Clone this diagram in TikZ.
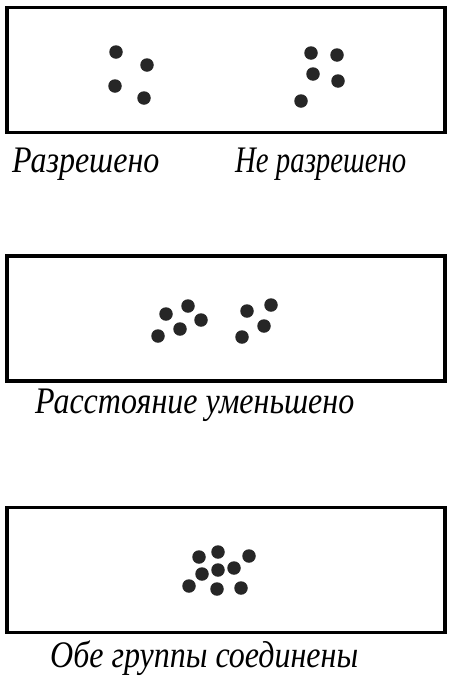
\documentclass[tikz,border=0pt]{standalone}
\usepackage{fontspec}
\setmainfont{Liberation Serif}
\usepackage{tikz}
\usetikzlibrary{positioning}
\tikzstyle{frame} = [rectangle, draw=black, line width=3.5pt, minimum
width=438pt, minimum height=125pt, inner sep=0pt]
\tikzstyle{grain} = [circle, fill=black!85, minimum size=13.5pt, inner sep=0pt]
\tikzstyle{caption} = [font=\itshape\fontsize{32}{32}\selectfont, anchor=base
west, inner sep=0pt, yscale=1.17, transform shape]

\begin{document}
\begin{tikzpicture}[x=1pt,y=-1pt]
    \useasboundingbox (0,0) rectangle (450,691);
    \node (f1) [frame] at (226,70) {};
    \node (f2) [frame] at (226,318.5) {};
    \node (f3) [frame] at (226,570) {};
    % first frame
    \foreach \x/\y [count=\i] in {116/52,147/65,115/86,144/98}
        \node (a\i) [grain] at (\x,\y) {};
    \foreach \x/\y [count=\i] in {311/53,337/55,313/74,338/81,301/101}
        \node (b\i) [grain] at (\x,\y) {};
    % second frame
    \foreach \x/\y [count=\i] in {166/314,188/306,201/320,180/329,158/336}
        \node (c\i) [grain] at (\x,\y) {};
    \foreach \x/\y [count=\i] in {247/311,271/305,264/326,242/337}
        \node (d\i) [grain] at (\x,\y) {};
    % third frame
    \foreach \x/\y [count=\i] in {199/557,218/552,249/556,202/574,218/570,
    234/568,189/586,217/589,241/588}
        \node (e\i) [grain] at (\x,\y) {};
    \node (t1) [caption] at (12,172) {Разрешено};
    \node (t2) [caption, xscale=0.9] at (235,172) {Не разрешено};
    \node (t3) [caption] at (35,413) {Расстояние уменьшено};
    \node (t4) [caption] at (50,667) {Обе группы соединены};
\end{tikzpicture}
\end{document}
